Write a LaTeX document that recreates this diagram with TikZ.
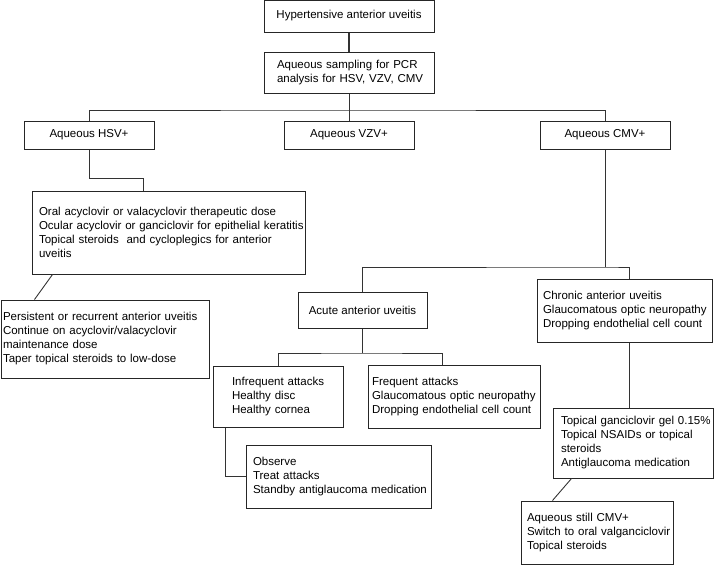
\documentclass[tikz,border=0pt]{standalone}
\usepackage{fontspec}
\setmainfont{Liberation Sans}

\begin{document}
\begin{tikzpicture}[x=1pt, y=-1pt,
  box/.style={draw=black!85, line width=1pt, inner xsep=1pt, inner ysep=0pt, font=\fontsize{11.5}{14}\selectfont},
  cbox/.style 2 args={box, minimum width=#1, minimum height=#2},
  lbox/.style n args={3}{box, align=left, text width=#1-2pt, minimum height=#2, execute at begin node={\leftskip=#3}},
  link/.style={draw=black!80, line width=0.9pt}]
\useasboundingbox (0,0) rectangle (714,565);

% Boxes
\node[cbox={170pt}{32pt}] (hyp) at (349,16) {Hypertensive anterior uveitis};
\node[lbox={170pt}{41pt}{12pt}] (samp) at (349,72.5) {Aqueous sampling for PCR\\analysis for HSV, VZV, CMV};

\node[cbox={130pt}{28pt}] (hsv) at (89,135) {Aqueous HSV+};
\node[cbox={130pt}{28pt}] (vzv) at (349,135) {Aqueous VZV+};
\node[cbox={130pt}{28pt}] (cmv) at (605,135) {Aqueous CMV+};

\node[lbox={273pt}{83pt}{6pt}] (oral) at (168.5,232.5) {Oral acyclovir or valacyclovir therapeutic dose\\Ocular acyclovir or ganciclovir for epithelial keratitis\\Topical steroids~ and cycloplegics for anterior\\uveitis};
\node[lbox={208pt}{78pt}{1pt}] (pers) at (105,339) {Persistent or recurrent anterior uveitis\\Continue on acyclovir/valacyclovir\\maintenance dose\\Taper topical steroids to low-dose};

\node[cbox={129pt}{36pt}] (acute) at (362.5,310) {Acute anterior uveitis};
\node[lbox={175pt}{63pt}{5pt}] (chron) at (624.5,310.5) {Chronic anterior uveitis\\Glaucomatous optic neuropathy\\Dropping endothelial cell count};

\node[lbox={130pt}{61pt}{18pt}] (infreq) at (278,396.5) {Infrequent attacks\\Healthy disc\\Healthy cornea};
\node[lbox={172pt}{63pt}{3pt}] (freq) at (454,396.5) {Frequent attacks\\Glaucomatous optic neuropathy\\Dropping endothelial cell count};
\node[lbox={185pt}{63pt}{6pt}] (obs) at (338.5,476.5) {Observe\\Treat attacks\\Standby antiglaucoma medication};

\node[lbox={160pt}{70pt}{7pt}] (topg) at (633,443) {Topical ganciclovir gel 0.15\%\\Topical NSAIDs or topical\\steroids\\Antiglaucoma medication};
\node[lbox={152pt}{63pt}{5pt}] (still) at (597,532.5) {Aqueous still CMV+\\Switch to oral valganciclovir\\Topical steroids};

% Connectors
\coordinate (jt) at (349,110);
\coordinate (hk) at (143,178);
\coordinate (jc) at (608,267);
\coordinate (ja) at (363,353);

\draw[link, line width=1.6pt] (hyp) -- (samp);
\draw[link] (samp) -- (vzv);
\draw[link] (hsv.north) |- (jt) -| (cmv.north);

\draw[link] (hsv.south) |- (hk) -- (hk |- oral.north);
\draw[link] ([xshift=21]oral.south west) -- ([xshift=34]pers.north west);

\draw[link] (cmv.south) -- (cmv.south |- jc);
\draw[link] (acute.north) |- (jc) -| ([xshift=4.5]chron.north);

\draw[link] (acute.south) -- (acute.south |- ja);
\draw[link] (infreq.north) |- (ja) -| ([xshift=-12]freq.north);
\draw[link] ([xshift=13]infreq.south west) |- (obs.west);

\draw[link, line width=0.6pt] ([xshift=4.5]chron.south) -- ([xshift=4.5]chron.south |- topg.north);
\draw[link] ([xshift=19]topg.south west) -- ([xshift=32]still.north west);

\end{tikzpicture}
\end{document}
